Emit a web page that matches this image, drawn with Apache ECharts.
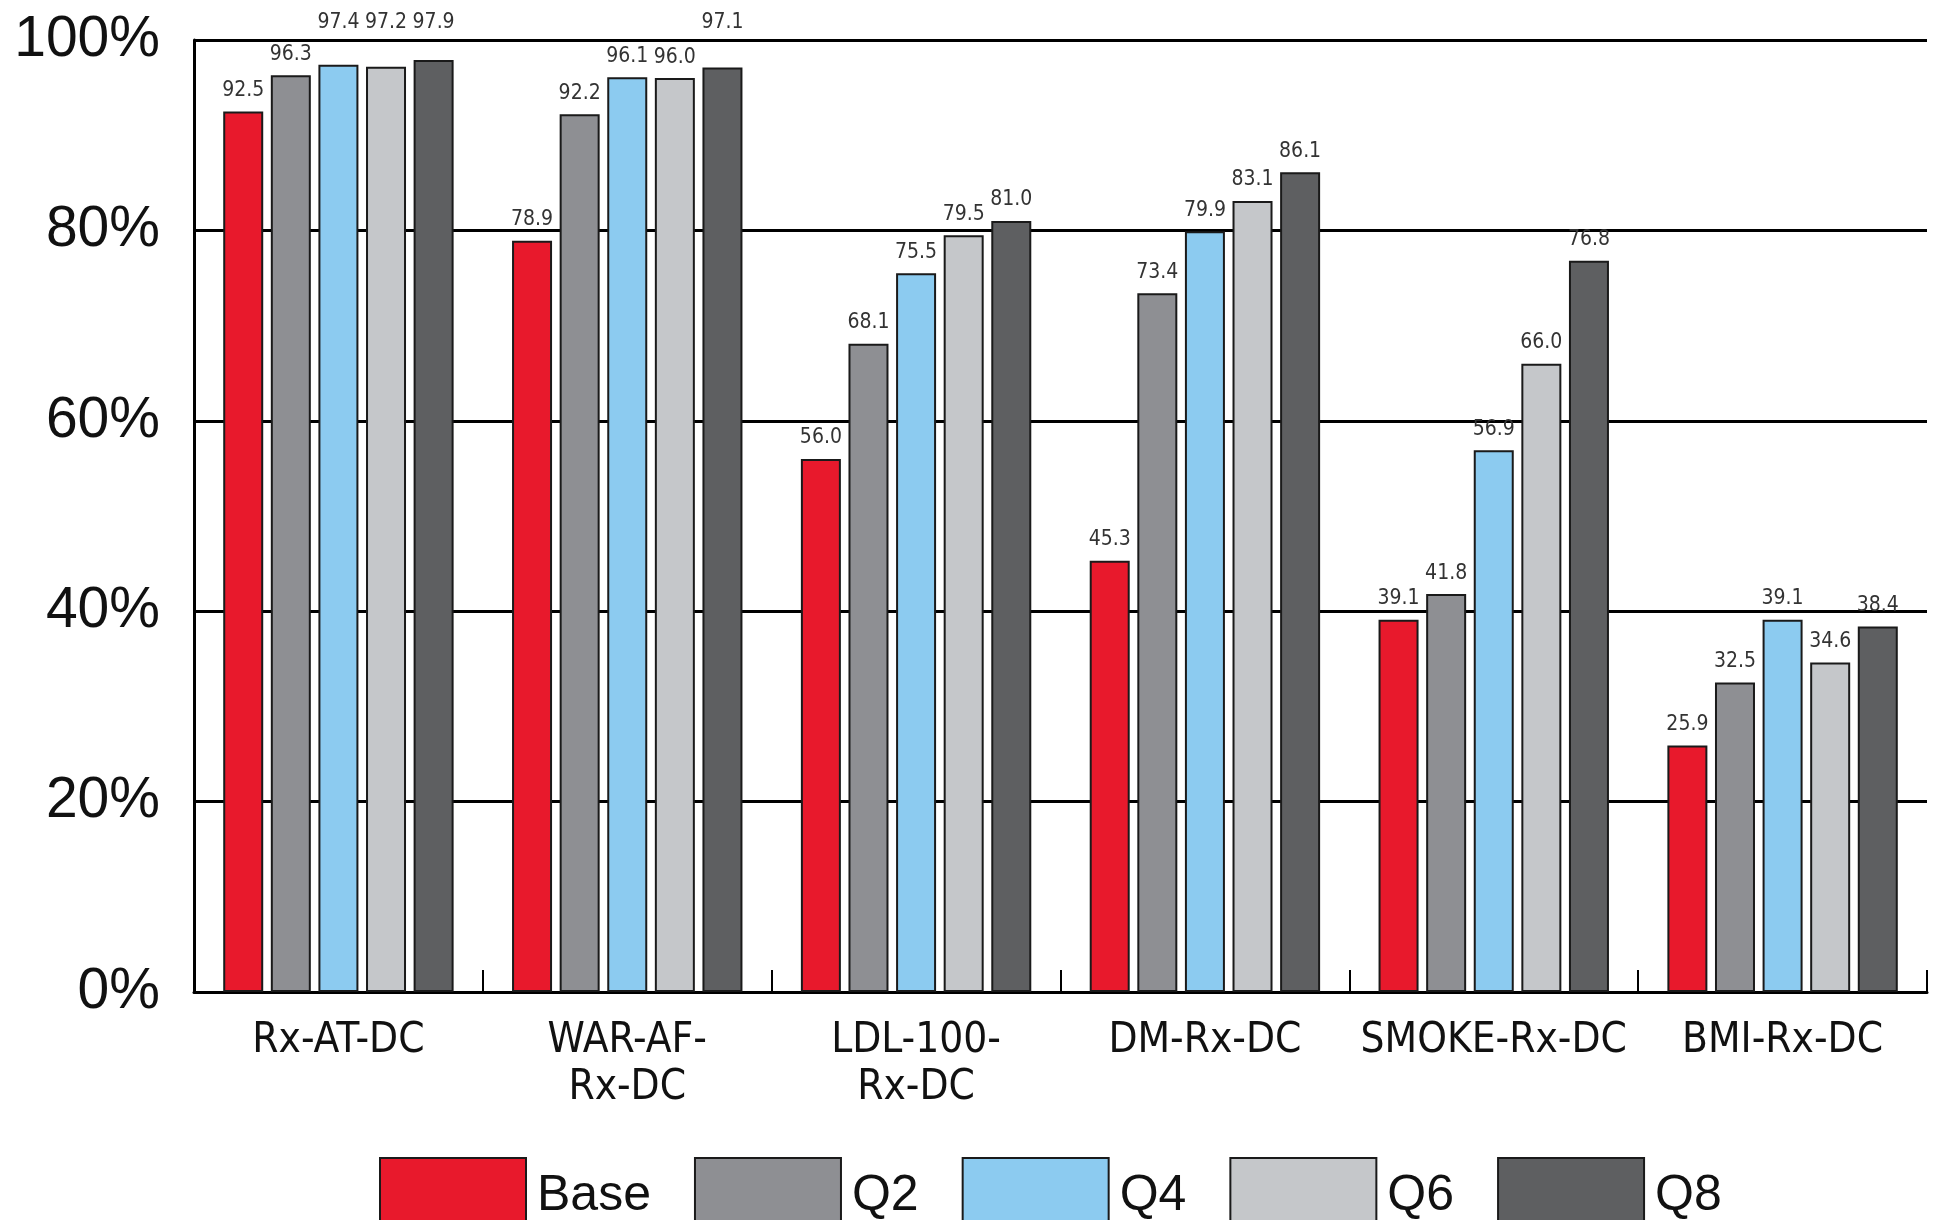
<!DOCTYPE html>
<html>
<head>
<meta charset="utf-8">
<script src="https://cdn.jsdelivr.net/npm/echarts@6/dist/echarts.min.js"></script>
<style>
  html, body { margin: 0; padding: 0; background: #fff; }
  #chart { width: 1939px; height: 1220px; }
</style>
</head>
<body>
<div id="chart"></div>
<script>
// Measures and series values (percent)
const categories = ['Rx-AT-DC', 'WAR-AF-\nRx-DC', 'LDL-100-\nRx-DC', 'DM-Rx-DC', 'SMOKE-Rx-DC', 'BMI-Rx-DC'];
const seriesNames = ['Base', 'Q2', 'Q4', 'Q6', 'Q8'];
const base = [92.5, 78.9, 56.0, 45.3, 39.1, 25.9];
const q2   = [96.3, 92.2, 68.1, 73.4, 41.8, 32.5];
const q4   = [97.4, 96.1, 75.5, 79.9, 56.9, 39.1];
const q6   = [97.2, 96.0, 79.5, 83.1, 66.0, 34.6];
const q8   = [97.9, 97.1, 81.0, 86.1, 76.8, 38.4];
const yTicks = [0, 20, 40, 60, 80, 100];

const colors = ['#e8192c', '#8e8f93', '#8ccbf0', '#c5c7ca', '#5e5f61'];
const seriesValues = [base, q2, q4, q6, q8];

// plot area geometry
const GRID = { left: 194, right: 12, top: 40, bottom: 228 };
const plotH = 1220 - GRID.top - GRID.bottom;
const LABEL_DIST = 10;
const LABEL_HALF = 11;

// labels of bars reaching close to 100% are raised above the top grid line
function dataItems(values) {
  return values.map(v => {
    if (v < 97) return v;
    const barTop = GRID.top + (100 - v) / 100 * plotH;
    const normalCenter = barTop - LABEL_DIST - LABEL_HALF;
    const target = GRID.top - 17;
    return { value: v, label: { offset: [0, target - normalCenter] } };
  });
}

const narrow = '"Liberation Sans Narrow", "DejaVu Sans Condensed", "Liberation Sans", sans-serif';

const chart = echarts.init(document.getElementById('chart'), null, { renderer: 'canvas' });

chart.setOption({
  animation: false,
  backgroundColor: '#ffffff',
  grid: GRID,
  legend: {
    data: seriesNames,
    left: 374,
    top: 1152,
    itemWidth: 146,
    itemHeight: 76,
    itemGap: 43,
    icon: 'rect',
    textStyle: {
      fontFamily: '"Liberation Sans", Arial, sans-serif',
      fontSize: 50,
      color: '#111',
      padding: [0, 0, 0, 6]
    }
  },
  xAxis: {
    type: 'category',
    data: categories,
    axisLine: { lineStyle: { color: '#000', width: 3 } },
    axisTick: { show: true, interval: 0, inside: true, length: 22, lineStyle: { color: '#000', width: 2 } },
    axisLabel: {
      interval: 0,
      margin: 26,
      fontFamily: narrow,
      fontSize: 42,
      lineHeight: 47,
      color: '#111'
    },
    splitLine: { show: false }
  },
  yAxis: {
    type: 'value',
    min: 0,
    max: 100,
    interval: 20,
    axisLine: { show: true, lineStyle: { color: '#000', width: 3 } },
    axisTick: { show: false },
    axisLabel: {
      margin: 34,
      fontFamily: '"Liberation Sans", Arial, sans-serif',
      fontSize: 57,
      color: '#111',
      formatter: v => (yTicks.includes(v) ? v + '%' : '')
    },
    splitLine: { lineStyle: { color: '#000', width: 3 } }
  },
  series: seriesNames.map((name, i) => ({
    name,
    type: 'bar',
    data: dataItems(seriesValues[i]),
    barWidth: 40,
    barGap: '19%',
    itemStyle: {
      color: colors[i],
      borderColor: '#1a1a1a',
      borderWidth: 2
    },
    label: {
      show: true,
      position: 'top',
      distance: LABEL_DIST,
      fontFamily: narrow,
      fontSize: 21,
      lineHeight: 22,
      color: '#333',
      formatter: p => Number(p.value).toFixed(1)
    }
  }))
});
</script>
</body>
</html>
